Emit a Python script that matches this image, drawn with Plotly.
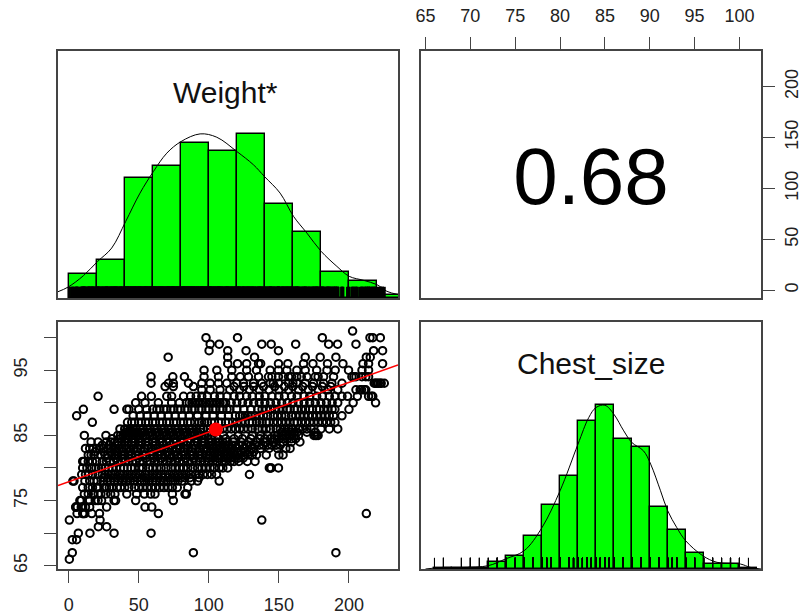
import plotly.graph_objects as go

# Histogram of Weight (bin edges every 20, heights read relative to the panel)
weight_bin_centers = [10, 30, 50, 70, 90, 110, 130, 150, 170, 190, 210, 230]
weight_bin_heights = [73, 115, 361, 397, 465, 443, 493, 282, 199, 79, 51, 10]
weight_curve_x = [-8.1, -0.3, 10.5, 20.7, 30.7, 40.7, 50.9, 60.5, 70, 80.2, 93.8, 105.7, 120, 131.9, 139.7, 150.9, 160.5, 170, 180.2, 191.4, 200.2, 210.5, 220, 227.1, 235.5]
weight_curve_y = [18, 33, 67, 110, 150, 230, 315, 380, 435, 470, 493, 483, 440, 400, 365, 315, 245, 195, 140, 95, 65, 53, 40, 20, 10]

# Histogram of Chest_size (bin edges every 2)
chest_bin_centers = [67, 69, 71, 73, 75, 77, 79, 81, 83, 85, 87, 89, 91, 93, 95, 97, 99, 101]
chest_bin_heights = [2, 3, 4, 20, 40, 99, 193, 279, 445, 492, 390, 367, 187, 118, 48, 15, 15, 2]
chest_curve_x = [65, 67, 69.2, 72, 73.9, 76, 78, 80, 82, 83.2, 84, 85, 86, 87.1, 88, 89.3, 90.1, 91.2, 92, 93, 94, 95.9, 97.5, 100.1, 101.2, 102.4]
chest_curve_y = [0, 5, 5, 10, 30, 55, 125, 235, 375, 455, 485, 492, 465, 415, 380, 355, 315, 235, 175, 125, 85, 40, 20, 15, 5, 0]

# Scatter: one list of weights per chest-size row
chest_rows = [101, 100, 99, 98, 97, 96, 95, 94, 93, 92.5, 92, 91, 90, 89, 88, 87, 86, 85.5, 85, 84.5, 84, 83.5, 83, 82.5, 82, 81.5, 81, 80, 79, 78.5, 78, 77, 76, 75, 74, 73, 72, 71, 70, 69, 67, 66]
weight_rows = [
    [202.6],
    [98, 120.5, 181, 215, 217, 222.4],
    [101, 107.4, 137.8, 144.5, 162, 185.5, 191.9, 205],
    [100.2, 113.5, 126.6, 149.7, 217.6, 224],
    [71, 113.5, 132.6, 168.8, 179.5, 190.7, 212.4, 215.2],
    [113.5, 120.5, 127, 135.5, 137, 149.7, 156.4, 167.6, 174.3, 184.7, 195.7, 210, 214, 224],
    [96.6, 105.7, 116.4, 127, 134, 143.8, 149.7, 155.7, 162.8, 168.8, 177, 184.3, 190.2, 199.7, 209.3, 214],
    [58.8, 74.3, 82.6, 96.6, 106.9, 116.4, 122.4, 128.3, 135.5, 142.6, 145, 149.7, 153, 156.9, 159, 162.8, 166, 170, 175.9, 178, 181.9, 189, 202.1, 203.5, 205, 209.3, 212, 214],
    [58.8, 71.2, 74.7, 85.5, 95, 101, 106.9, 112.8, 120, 124.7, 131.9, 137.8, 143.8, 146, 149.7, 156.9, 160, 162.8, 168.8, 174.7, 181.9, 187.8, 195, 218, 219, 220, 221, 222.4, 223, 225.2],
    [68.8, 74.7, 89, 118, 125, 132, 139, 147, 154, 160, 167, 174, 181, 187],
    [95, 101, 108, 115, 122, 129, 136, 143, 150, 157, 164, 171, 178, 185, 192, 205, 208, 209, 211, 212],
    [21, 52, 59, 70, 73.5, 82, 87, 91, 95, 99, 104, 108, 113, 118, 122, 127, 131, 136, 140, 145, 150, 154, 159, 163, 168, 172, 177, 181, 186, 190, 195, 199, 206, 214, 216, 217],
    [47.8, 54.5, 64, 73.5, 79, 84, 86, 88, 90, 92, 94, 96, 98, 100, 102, 104, 106, 108, 110, 112, 116, 120, 124, 128, 132, 136, 140, 144, 148, 152, 156, 160, 164, 168, 172, 176, 180, 184, 188, 192, 203, 219],
    [10.5, 32.4, 41.5, 43, 50, 55.7, 60, 63, 65, 68, 70, 73, 75, 78, 80, 83, 85, 88, 90, 93, 95, 98, 100, 103, 105, 108, 110, 113, 115, 120, 125, 130, 135, 138, 141, 144, 147, 150, 153, 156, 158, 161, 163, 166, 169, 172, 174, 177, 179, 182, 185, 188, 190, 200],
    [5.7, 46, 51, 56, 61, 66, 71, 76, 81, 86, 92, 98, 103, 109, 114, 119, 122, 124, 126, 128, 130, 133, 136, 139, 142, 146, 149, 152, 155, 159, 162, 165, 168, 171, 174, 177, 180, 183, 186, 189, 195],
    [16.9, 42, 45, 47, 50, 52, 55, 57, 60, 62, 65, 67, 70, 72, 75, 77, 80, 82, 85, 87, 90, 93, 95, 97, 99, 102, 104, 107, 109, 112, 114, 117, 120, 123, 126, 129, 131, 134, 136, 138, 141, 143, 146, 149, 152, 155, 158, 161, 163, 166, 169, 172, 175, 178, 181, 184, 187, 190],
    [36.6, 40, 42, 44, 46, 48, 51, 53, 56, 58, 61, 63, 66, 68, 71, 73, 76, 78, 81, 83, 86, 88, 91, 94, 96, 99, 101, 104, 106, 110, 113, 116, 119, 122, 125, 128, 131, 135, 138, 141, 144, 148, 151, 154, 157, 160, 164, 167, 170, 173, 180, 186, 192],
    [40.6, 43, 45, 47, 49, 52, 54, 57, 59, 62, 64, 67, 69, 72, 74, 77, 79, 82, 84, 87, 89, 92, 94.5, 101, 152, 155, 158, 161, 163, 170, 176],
    [11.2, 26.6, 35, 37, 39, 41, 43, 45, 47, 49, 51, 53, 55, 58, 60, 63, 65, 68, 70, 73, 75, 78, 80, 83, 85, 88, 90, 93, 95, 97, 99.5, 110.5, 121, 131, 137, 142, 147, 149, 152.5, 155, 158, 161, 164, 175, 176, 177, 178],
    [31, 37, 41, 46, 50, 55.5, 61, 66, 71, 76, 81, 86, 91, 96, 101.5, 107, 112, 118, 124, 130, 136.5, 140, 144, 147, 150, 153, 156, 159, 162],
    [16, 21, 27, 30, 33, 35, 38, 40, 42, 45, 47.5, 50, 52, 55, 57, 60, 62, 65, 67, 70, 72, 75, 77, 80, 82, 85, 87, 90, 92, 95, 97, 100, 102, 105, 107.5, 110, 113, 117.5, 123, 128.5, 134, 140, 146, 153, 159, 165],
    [24, 29, 35.5, 40, 45, 50.5, 56, 61.5, 67.5, 73, 78.5, 84, 89.5, 95.5, 100.5, 103, 106, 108, 111.5, 114, 116.5, 119, 121.5, 124, 127, 130, 133, 136, 139, 142, 145, 148, 151],
    [12, 15, 17.6, 20, 22, 25, 28, 30, 32, 34, 36, 38, 41, 43, 46.5, 49, 51.5, 54, 56.5, 59, 62.5, 65, 68, 71, 74, 77, 79.5, 82, 85, 88, 90.5, 93, 96.5, 99, 102.5, 105, 108, 111, 114, 117, 120, 125, 130.5, 137, 143, 149, 155, 158],
    [19, 25, 30, 34, 39, 44, 49, 54, 59.5, 65.5, 71, 76.5, 82.5, 88, 93.5, 98.5, 101, 103.5, 106, 109, 112, 115, 118, 120.5, 123, 126, 129, 132],
    [14, 16, 18, 23, 26, 28, 31, 33, 35, 37.5, 40, 42.5, 45, 48, 50, 53, 55, 58, 60, 63.5, 66, 69, 72, 75, 78, 80.5, 83, 86.5, 89, 92.5, 95, 98, 101, 104.5, 107, 111, 113, 116, 119, 122, 125, 128, 131, 134, 141, 150, 153],
    [27.5, 33.5, 38.5, 43.5, 49.5, 55, 60.5, 66.5, 72.5, 78, 83.5, 89, 94, 100, 103, 106.5, 109, 112.5, 115, 118.5, 121, 124.5],
    [10, 11, 14, 17, 20, 24, 27, 29.5, 32, 35, 38, 40.5, 43, 45.5, 48, 51, 53, 56, 58, 61, 64, 67, 70, 73, 76, 79, 82, 85, 88, 91, 94, 97, 100, 103, 106, 109.5, 112, 115.5, 118, 121.5, 127.5, 133],
    [10, 13, 16.4, 19.5, 21.5, 23.5, 26, 28.5, 31, 34, 37, 39.5, 42, 44.5, 47, 50.5, 53, 57, 60, 63, 66, 69.5, 73, 76, 79, 82, 85, 88.5, 92, 95, 98, 101, 104, 107.5, 110, 113.5, 143.2, 144, 144.5, 149.7],
    [9.3, 12, 14, 17, 21, 24, 26, 28, 30.5, 33, 36.5, 39, 42, 45, 48, 51, 54.5, 57, 60, 63, 66, 69, 72, 75, 78, 81, 84, 87, 90.5, 93, 96, 99, 102, 105.5, 129],
    [25, 28, 31.5, 34, 37, 40, 43, 46, 49, 52, 55, 58, 61, 64, 67.5, 71, 74, 77, 80, 83, 86.5, 93],
    [3, 3.8, 11.6, 15, 18, 20.5, 24.5, 27.5, 30, 32.5, 35, 38, 41, 44, 47, 51, 54, 57.5, 60, 62, 65, 68, 71, 74.5, 78, 81, 87.5, 92, 107.4],
    [10, 14, 17, 20, 21, 25.5, 27, 29, 31, 34.5, 37, 40, 43, 47, 50, 53, 56, 59, 62, 65, 68, 71, 74, 77.5, 85],
    [11.2, 14, 17.5, 18, 21, 23, 26.5, 30, 33, 41.5, 48.5, 54, 58.5, 61.6, 74, 83, 84],
    [8, 9, 14, 15, 19, 21, 23.5, 32.4, 33.5, 47.8, 74.7],
    [5, 5.2, 6.2, 9, 10, 12, 15, 27.1, 54.5, 59.3],
    [6, 10, 10.5, 11.5, 16.5, 22, 64, 212.4],
    [0.5, 22.4, 137.8],
    [21.2, 27.1],
    [6.9, 15.2, 32.4, 58.8],
    [2.6, 5.7],
    [2.6, 89, 190.7],
    [0.5],
]
scatter_x = [w for row in weight_rows for w in row]
scatter_y = [c for c, row in zip(chest_rows, weight_rows) for _ in row]

fit_x = [-7.6, 235]
fit_y = [77.3, 95.8]
mean_weight = [105]
mean_chest = [85.9]
correlation = "0.68"

weight_ticks = [0, 50, 100, 150, 200]
chest_top_ticks = [65, 70, 75, 80, 85, 90, 95, 100]
chest_left_ticks = [65, 70, 75, 80, 85, 90, 95, 100]
chest_left_labels = ["65", "", "75", "", "85", "", "95", ""]
weight_range = [-7.6, 235]
chest_range = [64.5, 102.4]

FONT = "Liberation Sans, Arial, sans-serif"
FRAME = "#444444"
W, H = 800, 616

fig = go.Figure()

def rug(x, y, xa, ya, width):
    return go.Scatter(x=x, y=y, mode="markers", xaxis=xa, yaxis=ya, hoverinfo="skip",
                      marker=dict(symbol="line-ns-open", size=16, color="black",
                                  line=dict(width=width, color="black")))

# Weight histogram (top left)
fig.add_trace(go.Bar(x=weight_bin_centers, y=weight_bin_heights, width=20, xaxis="x", yaxis="y",
                     marker=dict(color="#00ff00", line=dict(color="black", width=1.4))))
fig.add_trace(go.Scatter(x=weight_curve_x, y=weight_curve_y, mode="lines", xaxis="x", yaxis="y",
                         line=dict(color="black", width=1, shape="spline")))
fig.add_trace(rug(scatter_x, [0] * len(scatter_x), "x", "y", 3))

# Correlation (top right)
fig.add_trace(go.Scatter(x=[83.45], y=[104], mode="text", text=[correlation], xaxis="x2", yaxis="y2",
                         textposition="middle center",
                         textfont=dict(family=FONT, size=80, color="black")))

# Scatter (bottom left)
fig.add_trace(go.Scatter(x=scatter_x, y=scatter_y, mode="markers", xaxis="x3", yaxis="y3",
                         marker=dict(symbol="circle-open", size=7.5, color="black",
                                     line=dict(width=2, color="black"))))
fig.add_trace(go.Scatter(x=fit_x, y=fit_y, mode="lines", xaxis="x3", yaxis="y3",
                         line=dict(color="#ff0000", width=1.6)))
fig.add_trace(go.Scatter(x=mean_weight, y=mean_chest, mode="markers", xaxis="x3", yaxis="y3",
                         marker=dict(symbol="circle", size=14, color="#ff0000")))

# Chest histogram (bottom right)
fig.add_trace(go.Bar(x=chest_bin_centers, y=chest_bin_heights, width=2, xaxis="x4", yaxis="y4",
                     marker=dict(color="#00ff00", line=dict(color="black", width=1.4))))
fig.add_trace(go.Scatter(x=chest_curve_x, y=chest_curve_y, mode="lines", xaxis="x4", yaxis="y4",
                         line=dict(color="black", width=1, shape="spline")))
fig.add_trace(rug(scatter_y, [0] * len(scatter_y), "x4", "y4", 1.1))

xl = [58 / W, 398 / W]
xr = [421 / W, 761 / W]
yt = [(H - 298) / H, (H - 51) / H]
yb = [(H - 569) / H, (H - 322) / H]

frame = dict(showline=True, linecolor=FRAME, linewidth=1.8, mirror=True, showgrid=False, zeroline=False, automargin=False)
blank = dict(frame, showticklabels=False, ticks="")
tick = dict(frame, ticks="outside", ticklen=12, tickwidth=1.4, tickcolor=FRAME,
            tickfont=dict(family=FONT, size=18, color="#222222"))

fig.update_layout(
    width=W, height=H, autosize=False, margin=dict(l=0, r=0, t=0, b=0),
    paper_bgcolor="white", plot_bgcolor="white", showlegend=False, bargap=0,
    xaxis=dict(blank, domain=xl, range=weight_range, anchor="y"),
    yaxis=dict(blank, domain=yt, range=[0, 742], anchor="x"),
    xaxis2=dict(tick, domain=xr, range=chest_range, anchor="y2", side="top", ticklabelstandoff=8,
                tickmode="array", tickvals=chest_top_ticks, ticktext=[str(v) for v in chest_top_ticks]),
    yaxis2=dict(tick, domain=yt, range=weight_range, anchor="x2", side="right", tickangle=-90, ticklabelstandoff=1,
                tickmode="array", tickvals=weight_ticks, ticktext=[str(v) for v in weight_ticks]),
    xaxis3=dict(tick, domain=xl, range=weight_range, anchor="y3", ticklabelstandoff=6,
                tickmode="array", tickvals=weight_ticks, ticktext=[str(v) for v in weight_ticks]),
    yaxis3=dict(tick, domain=yb, range=chest_range, anchor="x3", tickangle=-90, ticklabelstandoff=10,
                tickmode="array", tickvals=chest_left_ticks, ticktext=chest_left_labels),
    xaxis4=dict(blank, domain=xr, range=chest_range, anchor="y4"),
    yaxis4=dict(blank, domain=yb, range=[0, 742], anchor="x4"),
    annotations=[
        dict(text="Weight*", xref="paper", yref="paper", x=225.5 / W, y=(H - 92) / H, showarrow=False,
             font=dict(family=FONT, size=30, color="#111111"), xanchor="center", yanchor="middle"),
        dict(text="Chest_size", xref="paper", yref="paper", x=591 / W, y=(H - 364) / H, showarrow=False,
             font=dict(family=FONT, size=30, color="#111111"), xanchor="center", yanchor="middle"),
    ],
)

fig.write_html("out.html", post_script="document.body.style.margin='0';document.body.style.overflow='hidden';",
               config=dict(displayModeBar=False))
